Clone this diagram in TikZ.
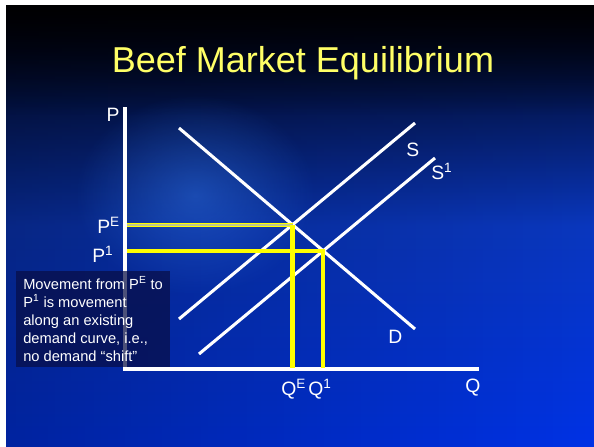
\documentclass[tikz,border=0pt]{standalone}
\usepackage{fontspec}
\setmainfont{Liberation Sans}
\usetikzlibrary{fadings,calc}
\definecolor{ttl}{RGB}{255,255,102}
\definecolor{yel}{RGB}{255,255,0}
\definecolor{yelin}{RGB}{190,200,140}
\definecolor{bgtop}{RGB}{0,0,10}
\definecolor{bgmid}{RGB}{10,55,190}
\definecolor{bgbot}{RGB}{0,50,230}
\definecolor{glow}{RGB}{50,120,235}
\definecolor{boxc}{RGB}{8,14,70}
\tikzfading[name=glowfade, inner color=transparent!0, outer color=transparent!100]
\begin{document}
\begin{tikzpicture}[x=0.75pt,y=-0.75pt,
  curve/.style={white, line width=2.3pt},
  axis/.style={white, line width=3pt},
  guide/.style={yel, line width=3.2pt},
  lbl/.style={white, font=\fontsize{14.5}{17}\selectfont, inner sep=0pt}]
\useasboundingbox (0,0) rectangle (594,447);
\fill[white] (0,0) rectangle (594,447);
% background
\shade[top color=bgtop, bottom color=bgbot, middle color=bgmid] (6,5) rectangle (594,447);
\fill[black, opacity=0.3, path fading=east] (6,5) rectangle (594,447);
\fill[black, opacity=0.75, path fading=south] (6,5) rectangle (594,115);
\fill[glow, opacity=0.45, path fading=glowfade] (195,195) ellipse (120 and 100);
% title
\node[ttl, font=\fontsize{27}{32}\selectfont, anchor=base, inner sep=0pt] (title) at (303,72) {Beef Market Equilibrium};
% curves
\coordinate (O) at (125,369);
\coordinate (d1) at (179,128); \coordinate (d2) at (415,329);
\coordinate (s1) at (179,319); \coordinate (s2) at (415,123);
\coordinate (t1) at (199,354); \coordinate (t2) at (435,158);
\coordinate (E) at (intersection of d1--d2 and s1--s2);
\coordinate (F) at (intersection of d1--d2 and t1--t2);
% axes
\coordinate (ytop) at (125,107);
\coordinate (xend) at (479,369);
\draw[axis] (ytop) -- (125,370.5);
\draw[axis] (123.5,369) -- (xend);
\draw[curve] (d1) -- (d2);
\draw[curve] (s1) -- (s2);
\draw[curve] (t1) -- (t2);
% yellow guides
\draw[yel, line width=0.9pt, double=yelin, double distance=1.3pt] ($(E -| O)+(2,0)$) -- (E);
\draw[guide] (E) -- ($(E |- O)+(0,-1.5)$);
\draw[guide] ($(F -| O)+(2,0)$) -- (F);
\draw[guide] ($(F)+(0,-1.5)$) -- ($(F |- O)+(0,-1.5)$);
% text box
\fill[boxc, opacity=0.72] (16,271) rectangle (170,367);
\node[anchor=north west, align=left, white, font=\fontsize{11}{13.5}\selectfont, inner sep=0pt] (txt) at (23,276.5)
 {Movement from P\textsuperscript{E} to\\P\textsuperscript{1} is movement\\along an existing\\demand curve, i.e.,\\no demand “shift”};
% labels
\node[lbl, anchor=base] (P) at (113,121) {P};
\node[lbl, anchor=base west] (PE) at (97,233) {P\textsuperscript{E}};
\node[lbl, anchor=base west] (P1) at (92,262) {P\textsuperscript{1}};
\node[lbl, anchor=base west] (S) at (406,156) {S};
\node[lbl, anchor=base west] (S1) at (431,179) {S\textsuperscript{1}};
\node[lbl, anchor=base west] (D) at (388,343) {D};
\node[lbl, anchor=base west] (QE) at (281,395) {Q\textsuperscript{E}};
\node[lbl, anchor=base west] (Q1) at (308,395) {Q\textsuperscript{1}};
\node[lbl, anchor=base west] (Q) at (465,392) {Q};
\end{tikzpicture}
\end{document}
